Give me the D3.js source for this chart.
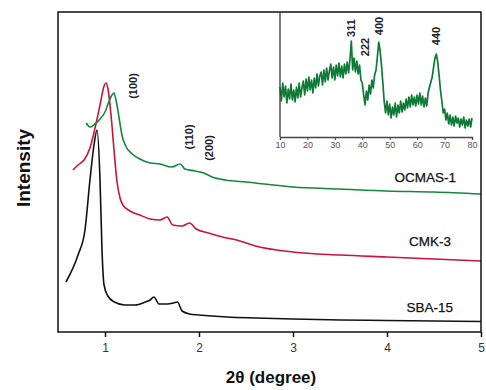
<!DOCTYPE html>
<html>
<head>
<meta charset="utf-8">
<script src="https://cdn.jsdelivr.net/npm/d3@7"></script>
<style>
  body { margin: 0; background: #fff; }
  svg { display: block; font-family: "Liberation Sans", Arial, sans-serif; }
</style>
</head>
<body>
<div id="chart"></div>
<script>
// main pattern, 2theta vs intensity (arbitrary units)
const sbaX = [0.585, 0.713, 0.787, 0.84, 0.883, 0.915, 0.947, 0.968, 0.99, 1.03, 1.1, 1.21, 1.32, 1.43, 1.48, 1.52, 1.575, 1.66, 1.73, 1.77, 1.82, 1.9, 2.0, 2.3, 2.6, 3.0, 3.5, 4.0, 4.5, 5.0];
const sbaY = [50, 77, 102, 152, 187, 202, 152, 82, 47, 36, 30, 27, 27, 30, 32, 35, 28, 28, 29, 30, 21, 18, 17, 15, 14, 13, 12, 11.5, 11, 10.5];

const cmkX = [0.66, 0.713, 0.777, 0.84, 0.894, 0.947, 0.99, 1.01, 1.03, 1.064, 1.096, 1.128, 1.16, 1.19, 1.266, 1.37, 1.48, 1.585, 1.66, 1.72, 1.82, 1.9, 1.97, 2.1, 2.25, 2.4, 2.6, 3.0, 3.5, 4.0, 4.5, 5.0];
const cmkY = [162, 167, 172, 184, 204, 227, 246, 249, 244, 217, 182, 150, 134, 127, 121, 117, 113, 112, 115, 107, 106, 109, 103, 99, 95, 92, 86, 80, 77, 75, 73, 71];

const ocmX = [0.8, 0.84, 0.894, 0.947, 1.0, 1.04, 1.074, 1.096, 1.117, 1.15, 1.18, 1.22, 1.29, 1.37, 1.48, 1.585, 1.71, 1.8, 1.85, 1.96, 2.05, 2.14, 2.28, 2.5, 3.0, 3.5, 4.0, 4.5, 5.0];
const ocmY = [209, 205, 208, 213, 220, 230, 237, 239, 232, 214, 197, 186, 178, 173, 169, 168, 165, 168, 163, 161, 159, 155, 152, 150, 145, 143, 141, 140, 138];

const xTicks = [1, 2, 3, 4, 5];

// inset: wide angle pattern, every 0.5 degree from 10 to 80
const insetStart = 10, insetStep = 0.5;
const insetY = [
  50, 36, 54, 40, 51, 34, 48, 38, 53, 37, 47, 35, 50, 39, 54, 40, 49, 56, 42, 58,
  46, 60, 47, 57, 44, 59, 49, 63, 51, 61, 65, 52, 67, 55, 69, 57, 66, 73, 59, 70,
  57, 72, 61, 74, 60, 71, 59, 73, 63, 75, 64, 77, 96, 67, 79, 65, 76, 63, 72, 57,
  54, 42, 32, 46, 37, 52, 43, 57, 49, 62, 67, 80, 95, 86, 72, 54, 35, 24, 36, 22,
  33, 19, 30, 22, 34, 20, 32, 24, 36, 25, 34, 27, 38, 29, 40, 30, 42, 32, 40, 31,
  42, 33, 44, 32, 41, 30, 39, 31, 44, 50, 55, 60, 70, 79, 83, 75, 62, 47, 36, 24,
  28, 17, 24, 13, 22, 12, 20, 11, 21, 14, 19, 10, 18, 12, 20, 9, 17, 11, 18, 10,
  19
];
const insetTicks = [10, 20, 30, 40, 50, 60, 70, 80];
const insetPeaks = [{ t: "311", x: 36, y: 28 }, { t: "222", x: 41, y: 47 }, { t: "400", x: 46, y: 26 }, { t: "440", x: 67, y: 36 }];

const W = 486, H = 390;
const svg = d3.select('#chart').append('svg').attr('width', W).attr('height', H);

const x = d3.scaleLinear().domain([0.5, 5]).range([58, 481]);
const y = d3.scaleLinear().domain([0, 320]).range([332, 12]);

const line = d3.line().x(d => x(d[0])).y(d => y(d[1])).curve(d3.curveMonotoneX);

const series = [
  { xs: sbaX, ys: sbaY, color: '#111111' },
  { xs: cmkX, ys: cmkY, color: '#c8143c' },
  { xs: ocmX, ys: ocmY, color: '#13873b' }
];
series.forEach(s => {
  svg.append('path')
    .datum(s.xs.map((v, i) => [v, s.ys[i]]))
    .attr('d', line)
    .attr('fill', 'none')
    .attr('stroke', s.color)
    .attr('stroke-width', 1.6);
});

// frame
svg.append('rect')
  .attr('x', 58).attr('y', 12).attr('width', 423).attr('height', 320)
  .attr('fill', 'none').attr('stroke', '#111').attr('stroke-width', 1.5);

const xAxis = svg.append('g')
  .attr('transform', 'translate(0,332)')
  .call(d3.axisBottom(x).tickValues(xTicks).tickFormat(d3.format('d')).tickSize(5).tickPadding(6));
xAxis.select('.domain').remove();
xAxis.selectAll('line').attr('stroke', '#111').attr('stroke-width', 1.5);
xAxis.selectAll('text').attr('font-size', 12).attr('fill', '#333');

svg.append('text')
  .attr('x', 271).attr('y', 383)
  .attr('text-anchor', 'middle')
  .attr('font-size', 17).attr('font-weight', 'bold').attr('fill', '#111')
  .text('2θ (degree)');

svg.append('text')
  .attr('transform', 'translate(30,168) rotate(-90)')
  .attr('text-anchor', 'middle')
  .attr('font-size', 19).attr('font-weight', 'bold').attr('fill', '#111')
  .text('Intensity');

// series labels
const labels = [
  { t: 'OCMAS-1', x: 456, y: 182 },
  { t: 'CMK-3', x: 451, y: 246 },
  { t: 'SBA-15', x: 453, y: 312 }
];
labels.forEach(l => {
  svg.append('text').attr('x', l.x).attr('y', l.y)
    .attr('text-anchor', 'end').attr('font-size', 13.5).attr('fill', '#111')
    .attr('stroke', '#111').attr('stroke-width', 0.25)
    .text(l.t);
});

// reflection indices
const hkl = [
  { t: '(100)', x: 1.3, y: 86 },
  { t: '(110)', x: 1.89, y: 137 },
  { t: '(200)', x: 2.11, y: 148 }
];
hkl.forEach(h => {
  svg.append('text')
    .attr('transform', `translate(${x(h.x) + 4},${h.y}) rotate(-90)`)
    .attr('text-anchor', 'middle').attr('font-size', 11).attr('font-weight', 'bold').attr('fill', '#222')
    .text(h.t);
});

// inset
const ix = d3.scaleLinear().domain([10, 80]).range([280, 472]);
const iy = d3.scaleLinear().domain([0, 125]).range([137, 12]);
const inset = svg.append('g');

inset.append('path')
  .datum(insetY.map((v, i) => [insetStart + i * insetStep, v]))
  .attr('d', d3.line().x(d => ix(d[0])).y(d => iy(d[1])))
  .attr('fill', 'none').attr('stroke', '#0d7a35').attr('stroke-width', 1.7)
  .attr('stroke-linejoin', 'round');

const iAxis = inset.append('g')
  .attr('transform', 'translate(0,137)')
  .call(d3.axisBottom(ix).tickValues(insetTicks).tickSize(3).tickPadding(2));
iAxis.select('.domain').attr('stroke', '#444').attr('stroke-width', 1.4);
iAxis.selectAll('line').attr('stroke', '#444');
iAxis.selectAll('text').attr('font-size', 9).attr('fill', '#555');

inset.append('line')
  .attr('x1', 280).attr('x2', 280).attr('y1', 12).attr('y2', 137)
  .attr('stroke', '#444').attr('stroke-width', 1.4);

insetPeaks.forEach(p => {
  inset.append('text')
    .attr('transform', `translate(${ix(p.x) + 4},${p.y}) rotate(-90)`)
    .attr('text-anchor', 'middle').attr('font-size', 11).attr('font-weight', 'bold').attr('fill', '#222')
    .text(p.t);
});
</script>
</body>
</html>
